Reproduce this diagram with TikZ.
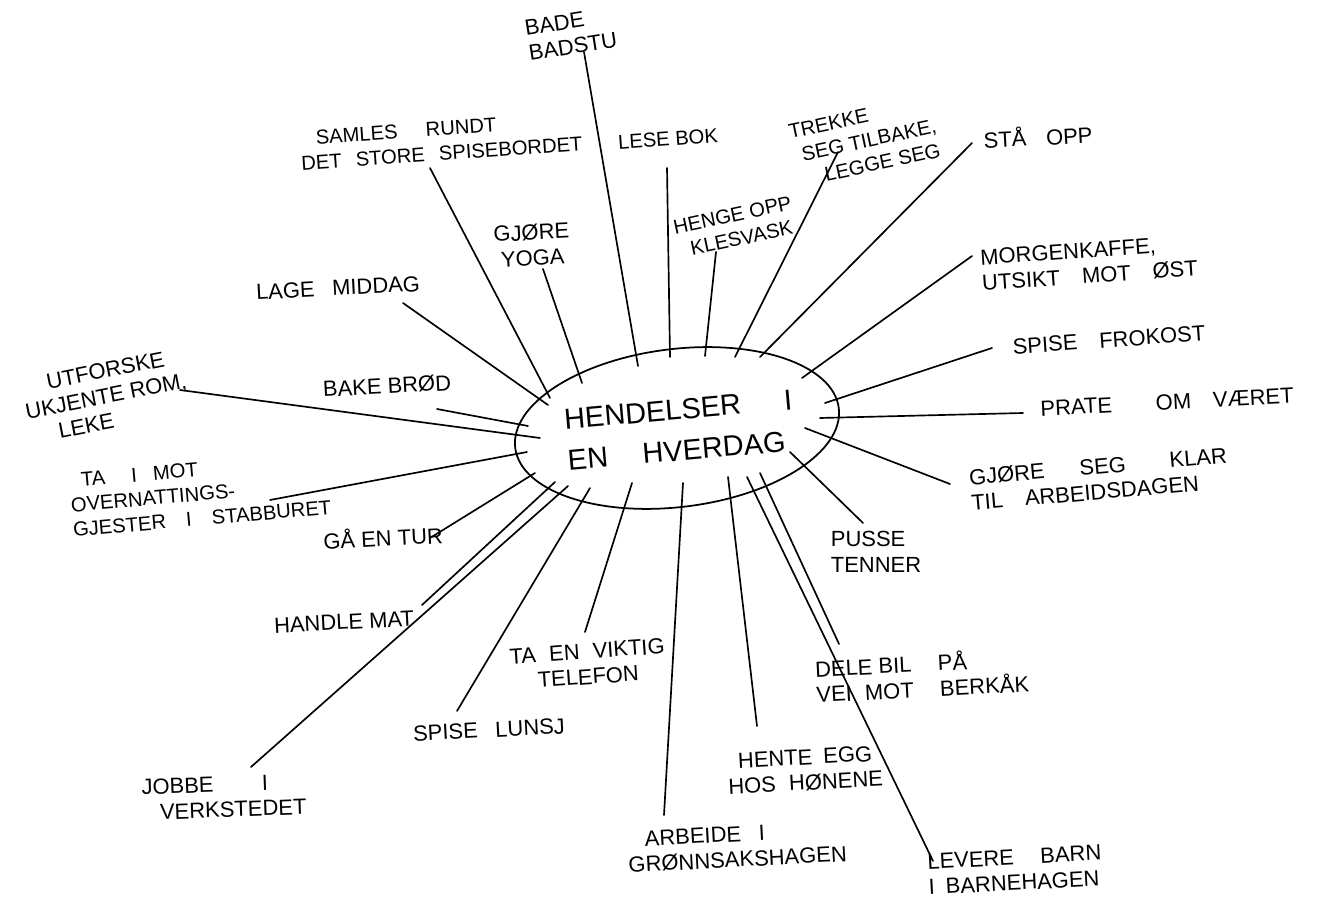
\documentclass[tikz,border=0pt]{standalone}
\usepackage{fontspec}
\setmainfont{Liberation Sans}
\begin{document}
\begin{tikzpicture}[x=0.02cm,y=-0.02cm,
  lbl/.style={inner sep=0pt, font=\fontsize{12.5}{14.5}\selectfont, text=black},
  sml/.style={lbl, font=\fontsize{11.5}{14}\selectfont},
  ctr/.style={inner sep=0pt, font=\fontsize{16.5}{20.5}\selectfont, text=black},
  branch/.style={line width=0.95pt, black, line cap=round},
  ring/.style={line width=1pt, black}]
\useasboundingbox (0,0) rectangle (1322,905);
\fill[white] (0,0) rectangle (1322,905);

% central ellipse and title
\draw[ring, rotate around={7:(677,428)}] (677,428) ellipse [x radius=163, y radius=79];
\node[ctr, rotate=5, align=left] (title) at (680,430) {HENDELSER\hspace{1.5em}I\\[3pt]EN\hspace{1.2em}HVERDAG};

% labels
\node[lbl, rotate=9, align=left] (bade) at (571,34) {BADE\\BADSTU};
\node[sml, rotate=4, align=left] (samles) at (441,141) {\hspace{0.8em}SAMLES\hspace{1.4em}RUNDT\\DET\hspace{0.7em}STORE\hspace{0.7em}SPISEBORDET};
\node[sml, rotate=4] (lese) at (668,139) {LESE BOK};
\node[sml, rotate=12, align=left] (trekke) at (865,141) {TREKKE\\\hspace{0.4em}SEG TILBAKE,\\\hspace{1.3em}LEGGE SEG};
\node[lbl, rotate=3] (sta) at (1038,136) {STÅ\hspace{0.9em}OPP};
\node[sml, rotate=12, align=left] (henge) at (735,227) {HENGE OPP\\\hspace{0.6em}KLESVASK};
\node[lbl, rotate=3, align=center] (yoga) at (532,245) {GJØRE\\YOGA};
\node[lbl, rotate=4, align=left] (morgen) at (1089,263) {MORGENKAFFE,\\UTSIKT\hspace{1em}MOT\hspace{1em}ØST};
\node[lbl, rotate=3] (lage) at (338,288) {LAGE\hspace{0.8em}MIDDAG};
\node[lbl, rotate=4] (frokost) at (1109,340) {SPISE\hspace{1em}FROKOST};
\node[lbl, rotate=11, align=left] (utforske) at (106,396) {\hspace{1.2em}UTFORSKE\\UKJENTE ROM,\\\hspace{1.3em}LEKE};
\node[lbl, rotate=3] (bake) at (387,386) {BAKE BRØD};
\node[lbl, rotate=3] (prate) at (1167,402) {PRATE\hspace{2em}OM\hspace{1em}VÆRET};
\node[lbl, rotate=5, align=left] (klar) at (1099,479) {GJØRE\hspace{1.6em}SEG\hspace{2em}KLAR\\TIL\hspace{1em}ARBEIDSDAGEN};
\node[lbl, align=left] (pusse) at (876,552) {PUSSE\\TENNER};
\node[sml, rotate=5, align=left] (tamot) at (200,494) {\hspace{0.6em}TA\hspace{1.3em}I\hspace{0.8em}MOT\\OVERNATTINGS-\\GJESTER\hspace{1em}I\hspace{1em}STABBURET};
\node[lbl, rotate=3] (tur) at (383,537) {GÅ EN TUR};
\node[lbl, rotate=3] (handle) at (344,622) {HANDLE MAT};
\node[lbl, rotate=2, align=left] (jobbe) at (224,797) {JOBBE\hspace{2.2em}I\\\hspace{0.8em}VERKSTEDET};
\node[lbl, rotate=3] (lunsj) at (489,730) {SPISE\hspace{0.8em}LUNSJ};
\node[lbl, rotate=4, align=left] (telefon) at (588,664) {TA\hspace{0.6em}EN\hspace{0.6em}VIKTIG\\\hspace{1.2em}TELEFON};
\node[lbl, rotate=3, align=left] (arbeide) at (737,847) {\hspace{0.8em}ARBEIDE\hspace{0.8em}I\\GRØNNSAKSHAGEN};
\node[lbl, rotate=3, align=left] (egg) at (805,770) {\hspace{0.5em}HENTE\hspace{0.5em}EGG\\HOS\hspace{0.6em}HØNENE};
\node[lbl, rotate=3, align=left] (dele) at (922,675) {DELE BIL\hspace{1.2em}PÅ\\VEI\hspace{0.6em}MOT\hspace{1.2em}BERKÅK};
\node[lbl, rotate=3, align=left] (levere) at (1015,870) {LEVERE\hspace{1.2em}BARN\\I\hspace{0.5em}BARNEHAGEN};

% connector end points
\coordinate (badeO) at (584,52);    \coordinate (badeI) at (638,366);
\coordinate (samlesO) at (430,168); \coordinate (samlesI) at (550,398);
\coordinate (leseO) at (667,168);   \coordinate (leseI) at (670,357);
\coordinate (trekkeO) at (838,152); \coordinate (trekkeI) at (735,357);
\coordinate (staO) at (972,143);    \coordinate (staI) at (760,357);
\coordinate (hengeO) at (716,252);  \coordinate (hengeI) at (705,356);
\coordinate (yogaO) at (543,269);   \coordinate (yogaI) at (582,383);
\coordinate (morgenO) at (972,256); \coordinate (morgenI) at (802,378);
\coordinate (lageO) at (403,303);   \coordinate (lageI) at (548,405);
\coordinate (frokostO) at (992,348);\coordinate (frokostI) at (825,403);
\coordinate (utforskeO) at (180,390);\coordinate (utforskeI) at (540,438);
\coordinate (bakeO) at (437,409);   \coordinate (bakeI) at (528,426);
\coordinate (prateO) at (1023,413); \coordinate (prateI) at (820,418);
\coordinate (klarO) at (950,484);   \coordinate (klarI) at (805,428);
\coordinate (pusseO) at (863,523);  \coordinate (pusseI) at (790,452);
\coordinate (tamotO) at (270,500);  \coordinate (tamotI) at (527,452);
\coordinate (turO) at (430,538);    \coordinate (turI) at (535,473);
\coordinate (handleO) at (422,605); \coordinate (handleI) at (555,482);
\coordinate (jobbeO) at (251,767);  \coordinate (jobbeI) at (568,486);
\coordinate (lunsjO) at (457,711);  \coordinate (lunsjI) at (590,488);
\coordinate (telefonO) at (585,632);\coordinate (telefonI) at (632,483);
\coordinate (arbeideO) at (664,815);\coordinate (arbeideI) at (683,483);
\coordinate (eggO) at (757,726);    \coordinate (eggI) at (728,477);
\coordinate (deleO) at (839,644);   \coordinate (deleI) at (760,473);
\coordinate (levereO) at (933,861); \coordinate (levereI) at (747,477);

\foreach \n in {bade,samles,lese,trekke,sta,henge,yoga,morgen,lage,frokost,utforske,bake,prate,klar,pusse,tamot,tur,handle,jobbe,lunsj,telefon,arbeide,egg,dele,levere}
  \draw[branch] (\n O) -- (\n I);
\end{tikzpicture}
\end{document}
